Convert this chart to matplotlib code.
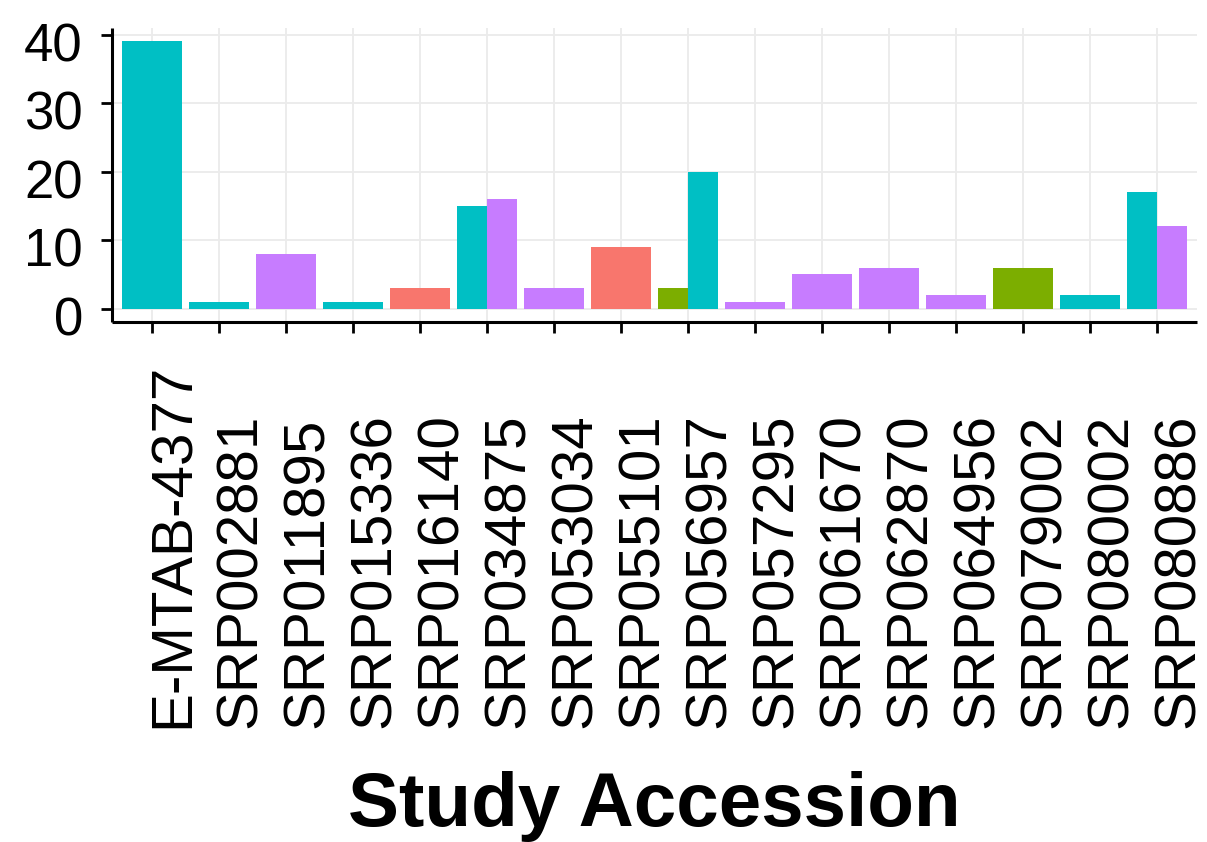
import numpy as np
import matplotlib
matplotlib.use("Agg")
import matplotlib.pyplot as plt
import matplotlib.transforms as mtransforms

studies = ["E-MTAB-4377", "SRP002881", "SRP011895", "SRP015336", "SRP016140",
           "SRP034875", "SRP053034", "SRP055101", "SRP056957", "SRP057295",
           "SRP061670", "SRP062870", "SRP064956", "SRP079002", "SRP080002",
           "SRP080886"]
nan = np.nan
# group values per study (nan = group absent)
red_vals    = [nan, nan, nan, nan, 3, nan, nan, 9, nan, nan, nan, nan, nan, nan, nan, nan]
green_vals  = [nan, nan, nan, nan, nan, nan, nan, nan, 3, nan, nan, nan, nan, 6, nan, nan]
teal_vals   = [39, 1, nan, 1, nan, 15, nan, nan, 20, nan, nan, nan, nan, nan, 2, 17]
purple_vals = [nan, nan, 8, nan, nan, 16, 3, nan, nan, 1, 5, 6, 2, nan, nan, 12]
yticks = [0, 10, 20, 30, 40]

groups = [red_vals, green_vals, teal_vals, purple_vals]
colors = ["#F8766D", "#7CAE00", "#00BFC4", "#C77CFF"]

plt.rcParams['font.family'] = ['Liberation Sans', 'DejaVu Sans']

W, H = 1207, 842
fig = plt.figure(figsize=(W / 100, H / 100), dpi=100)
left, right, top, bottom = 112, 1197, 28, 322
ax = fig.add_axes([left / W, 1 - bottom / H, (right - left) / W, (bottom - top) / H])

x = np.arange(1, len(studies) + 1)
total_w = 0.9
for i, xi in enumerate(x):
    present = [(g, c) for g, c in zip(groups, colors) if not np.isnan(g[i])]
    n = len(present)
    w = total_w / n
    for k, (g, c) in enumerate(present):
        xc = xi - total_w / 2 + w * (k + 0.5)
        ax.bar(xc, g[i], width=w, color=c, edgecolor='none', zorder=3)

ax.set_xlim(0.4, len(studies) + 0.6)
ax.set_ylim(-1.95, 40.95)
ax.set_yticks(yticks)
ax.set_yticklabels([str(v) for v in yticks], fontsize=38)
ax.set_xticks(x)
ax.set_xticklabels([])

ax.grid(True, color='#EBEBEB', linewidth=1.3, zorder=0)
ax.set_axisbelow(True)
for s in ['top', 'right']:
    ax.spines[s].set_visible(False)
for s in ['left', 'bottom']:
    ax.spines[s].set_linewidth(2.2)
    ax.spines[s].set_color('black')
    ax.spines[s].set_capstyle('butt')
ax.tick_params(axis='both', length=8, width=2.0, color='black', direction='out')
ax.tick_params(axis='y', pad=13)

shift = mtransforms.ScaledTranslation(0, -7 / 100, fig.dpi_scale_trans)
for lab in ax.get_yticklabels():
    lab.set_transform(lab.get_transform() + shift)

trans = (mtransforms.blended_transform_factory(ax.transData, fig.transFigure)
         + mtransforms.ScaledTranslation(-5 / 100, 0, fig.dpi_scale_trans))
for xi, lab in zip(x, studies):
    ax.text(xi, 1 - 728 / H, lab, rotation=90, ha='left', va='bottom',
            fontsize=42, transform=trans, clip_on=False)

fig.text(((left + right) / 2) / W, 1 - 826 / H, "Study Accession",
         ha='center', va='baseline', fontsize=55, fontweight='bold')

fig.savefig("out.png", dpi=100)
